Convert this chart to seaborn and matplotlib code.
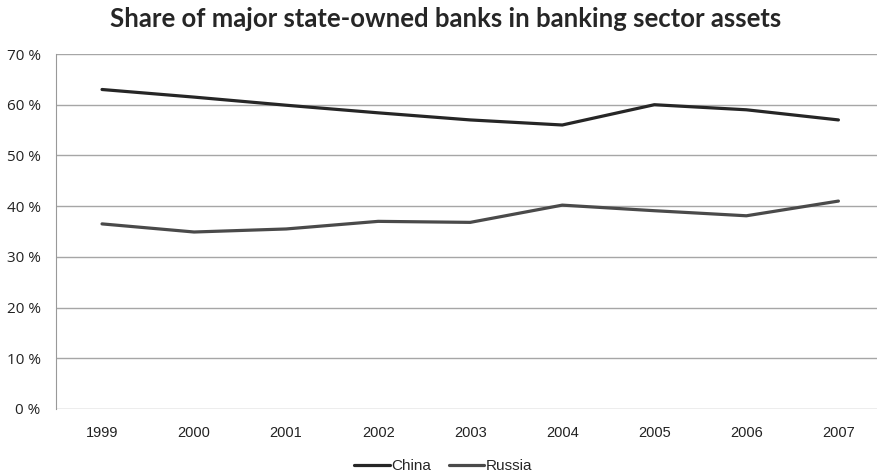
import pandas as pd
import matplotlib.pyplot as plt
import seaborn as sns

# values (percent)
years = ['1999', '2000', '2001', '2002', '2003', '2004', '2005', '2006', '2007']
china = [63.0, 61.5, 59.9, 58.4, 57.0, 56.0, 60.0, 59.0, 57.0]
russia = [36.5, 34.9, 35.5, 37.0, 36.8, 40.2, 39.1, 38.1, 41.0]
series = ['China', 'Russia']
colors = ['#262626', '#4a4a4a']
yticks = [0, 10, 20, 30, 40, 50, 60, 70]

sns.set_style('white')
plt.rcParams['font.family'] = ['Liberation Sans', 'DejaVu Sans']

df = pd.DataFrame({'year': years * 2,
                   'share': china + russia,
                   'country': [series[0]] * len(years) + [series[1]] * len(years)})
df['pos'] = df['year'].map({y: i for i, y in enumerate(years)})

fig = plt.figure(figsize=(8.78, 4.75), dpi=100)
ax = fig.add_axes([56 / 878, 66 / 475, 1 - 56 / 878, 355 / 475])

sns.lineplot(data=df, x='pos', y='share', hue='country', hue_order=series,
             palette=colors, linewidth=2.3, ax=ax, legend=False)

ax.set_xlim(-0.5, 8.43)
ax.set_ylim(0, 70)
ax.set_xticks(range(len(years)))
ax.set_xticklabels(years, fontsize=10.5, color='#222222')
ax.set_yticks(yticks)
ax.set_yticklabels([f'{t} %' for t in yticks], fontsize=11, color='#222222',
                   family=['Open Sans', 'DejaVu Sans'])
ax.tick_params(axis='x', length=0, pad=12)
ax.tick_params(axis='y', length=0, pad=11)
ax.grid(axis='y', color='#a6a6a6', linewidth=1)
ax.set_axisbelow(True)
for side in ['top', 'right', 'bottom']:
    ax.spines[side].set_visible(False)
ax.spines['left'].set_color('#999999')
ax.set_xlabel('')
ax.set_ylabel('')

handles = [plt.Line2D([], [], color=c, linewidth=2.3) for c in colors]
fig.legend(handles, series, loc='center', bbox_to_anchor=(0.505, 0.018),
           ncol=2, frameon=False, fontsize=11, handlelength=2.3,
           handletextpad=0.1, columnspacing=1.2)

fig.suptitle('Share of major state-owned banks in banking sector assets',
             x=0.507, y=0.985, fontsize=18.5, fontweight='bold',
             family=['Lato', 'DejaVu Sans'])

fig.savefig('out.png', dpi=100)
